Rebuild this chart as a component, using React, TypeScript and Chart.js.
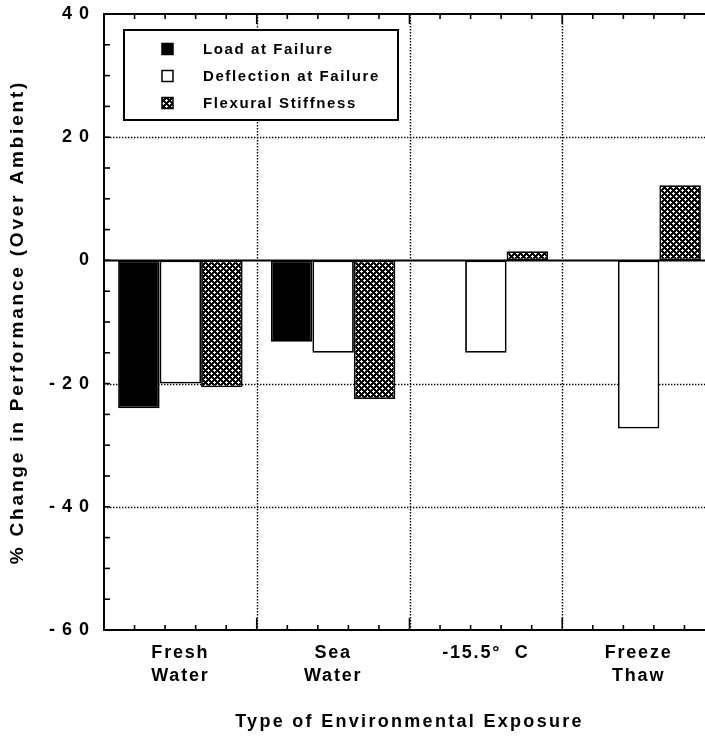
import React, { useEffect, useRef } from 'react';
import { Chart, registerables } from 'chart.js';

Chart.register(...registerables);

const categories: (string | string[])[] = [['Fresh', 'Water'], ['Sea', 'Water'], '-15.5°  C', ['Freeze', 'Thaw']];
const seriesNames = ['Load at Failure', 'Deflection at Failure', 'Flexural Stiffness'];
const loadAtFailure: (number | null)[] = [-24, -13.2, null, null];
const deflectionAtFailure: (number | null)[] = [-20, -15, -15, -27.3];
const flexuralStiffness: (number | null)[] = [-20.6, -22.5, 1.5, 12.2];
const yTicks = [40, 20, 0, -20, -40, -60];
const dottedLevels = [20, -20, -40];

const FONT = '"Liberation Sans", Arial, Helvetica, sans-serif';

function makePattern(ctx: CanvasRenderingContext2D): CanvasPattern | string {
  const c = document.createElement('canvas');
  c.width = 6;
  c.height = 6;
  const p = c.getContext('2d');
  if (!p) return '#555';
  p.fillStyle = '#000';
  p.fillRect(0, 0, 6, 6);
  p.fillStyle = '#fff';
  const plus = (cx: number, cy: number) => {
    p.fillRect(cx, cy - 1, 1, 3);
    p.fillRect(cx - 1, cy, 3, 1);
  };
  plus(1, 1);
  plus(4, 4);
  return ctx.createPattern(c, 'repeat') || '#555';
}

function spaced(scale: any, key: 'drawLabels' | 'drawTitle', spacing: string) {
  if (scale['__p_' + key]) return;
  const orig = scale[key].bind(scale);
  scale[key] = (...args: any[]) => {
    const ctx = scale.ctx as any;
    ctx.save();
    ctx.letterSpacing = spacing;
    orig(...args);
    ctx.restore();
  };
  scale['__p_' + key] = true;
}

const spacingPlugin = {
  id: 'spacing',
  beforeDraw(chart: any) {
    spaced(chart.scales.x, 'drawLabels', '1.8px');
    spaced(chart.scales.x, 'drawTitle', '2.3px');
    spaced(chart.scales.y, 'drawLabels', '7px');
    spaced(chart.scales.y, 'drawTitle', '2.8px');
  },
};

function line(ctx: CanvasRenderingContext2D, x1: number, y1: number, x2: number, y2: number) {
  ctx.beginPath();
  ctx.moveTo(x1, y1);
  ctx.lineTo(x2, y2);
  ctx.stroke();
}

function boundaries(chart: any): number[] {
  const x = chart.scales.x;
  const n = chart.data.labels.length;
  const out: number[] = [];
  for (let i = 0; i < n - 1; i++) {
    out.push((x.getPixelForValue(i) + x.getPixelForValue(i + 1)) / 2);
  }
  return out;
}

const framePlugin = {
  id: 'frame',
  beforeDatasetsDraw(chart: any) {
    const { ctx, chartArea: a, scales } = chart;
    const y = scales.y;
    ctx.save();
    ctx.strokeStyle = '#000';
    ctx.lineWidth = 1.4;
    ctx.setLineDash([1.4, 1.6]);
    for (const v of dottedLevels) {
      const py = Math.round(y.getPixelForValue(v)) + 0.5;
      line(ctx, a.left, py, a.right, py);
    }
    for (const b of boundaries(chart)) {
      const px = Math.round(b) + 0.5;
      line(ctx, px, a.top, px, a.bottom);
    }
    ctx.restore();
  },
  afterDatasetsDraw(chart: any) {
    const { ctx, chartArea: a, scales } = chart;
    const x = scales.x;
    const y = scales.y;
    ctx.save();
    ctx.strokeStyle = '#000';
    ctx.setLineDash([]);
    ctx.lineWidth = 2;
    const z = y.getPixelForValue(0);
    line(ctx, a.left, z, a.right, z);
    ctx.lineWidth = 2;
    ctx.strokeRect(a.left, a.top, a.right - a.left, a.bottom - a.top);
    ctx.lineWidth = 1.6;
    for (let v = y.min + 5; v < y.max; v += 5) {
      const py = y.getPixelForValue(v);
      line(ctx, a.left, py, a.left + 6, py);
      line(ctx, a.right, py, a.right - 6, py);
    }
    const n = chart.data.labels.length;
    const half = (x.getPixelForValue(1) - x.getPixelForValue(0)) / 2;
    for (let i = 0; i < n; i++) {
      const left = x.getPixelForValue(i) - half;
      for (let k = 1; k < 5; k++) {
        const px = left + (k * 2 * half) / 5;
        line(ctx, px, a.bottom, px, a.bottom - 5);
        line(ctx, px, a.top, px, a.top + 5);
      }
    }
    for (const b of boundaries(chart)) {
      line(ctx, b, a.bottom, b, a.bottom - 12);
      line(ctx, b, a.top, b, a.top + 10);
    }
    ctx.restore();
  },
};

const legendPlugin = {
  id: 'boxLegend',
  afterDatasetsDraw(chart: any) {
    const ctx = chart.ctx as any;
    ctx.save();
    ctx.fillStyle = '#fff';
    ctx.fillRect(124, 30, 274, 90);
    ctx.strokeStyle = '#000';
    ctx.lineWidth = 2;
    ctx.strokeRect(124, 30, 274, 90);
    ctx.font = `bold 15px ${FONT}`;
    ctx.letterSpacing = '1.6px';
    ctx.textBaseline = 'middle';
    ctx.textAlign = 'left';
    chart.data.datasets.forEach((ds: any, i: number) => {
      const cy = 49 + i * 27;
      ctx.fillStyle = ds.backgroundColor;
      ctx.fillRect(162, cy - 5.5, 11, 11);
      ctx.lineWidth = 1.5;
      ctx.strokeStyle = '#000';
      ctx.strokeRect(162, cy - 5.5, 11, 11);
      ctx.fillStyle = '#000';
      ctx.fillText(ds.label, 203, cy + 0.5);
    });
    ctx.restore();
  },
};

export default function App() {
  const ref = useRef<HTMLCanvasElement | null>(null);

  useEffect(() => {
    const canvas = ref.current;
    if (!canvas) return;
    const ctx = canvas.getContext('2d');
    if (!ctx) return;
    const pattern = makePattern(ctx);
    const chart = new Chart(canvas, {
      type: 'bar',
      data: {
        labels: categories as any,
        datasets: [
          { label: seriesNames[0], data: loadAtFailure, backgroundColor: '#000', borderColor: '#000', borderWidth: 1.8, borderSkipped: false },
          { label: seriesNames[1], data: deflectionAtFailure, backgroundColor: '#fff', borderColor: '#000', borderWidth: 1.8, borderSkipped: false },
          { label: seriesNames[2], data: flexuralStiffness, backgroundColor: pattern as any, borderColor: '#000', borderWidth: 1.8, borderSkipped: false },
        ],
      },
      options: {
        responsive: false,
        animation: false,
        devicePixelRatio: 1,
        layout: { padding: { top: 14, right: 1, left: 0, bottom: 0 } },
        plugins: { legend: { display: false }, tooltip: { enabled: false } },
        datasets: { bar: { categoryPercentage: 0.815, barPercentage: 1 } },
        scales: {
          x: {
            grid: { display: false, drawTicks: false },
            border: { display: false },
            ticks: { color: '#000', font: { family: FONT, size: 18, weight: 'bold', lineHeight: 1.3 }, padding: 11, maxRotation: 0, autoSkip: false },
            title: { display: true, text: 'Type of Environmental Exposure', color: '#000', font: { family: FONT, size: 18, weight: 'bold' }, padding: { top: 0, bottom: 10 } },
            afterFit: (s: any) => {
              s.height = 113;
              s.paddingLeft = 0;
              s.paddingRight = 0;
            },
          },
          y: {
            min: -60,
            max: 40,
            grid: { display: false, drawTicks: false },
            border: { display: false },
            afterBuildTicks: (s: any) => {
              s.ticks = yTicks.map((v) => ({ value: v }));
            },
            ticks: { color: '#000', font: { family: FONT, size: 18, weight: 'bold' }, padding: 8 },
            title: { display: true, text: '% Change in Performance (Over Ambient)', color: '#000', font: { family: FONT, size: 19, weight: 'bold' }, padding: { top: 6, bottom: 0 } },
            afterFit: (s: any) => {
              s.width = 104;
              s.paddingTop = 0;
              s.paddingBottom = 0;
            },
          },
        },
      },
      plugins: [spacingPlugin, framePlugin, legendPlugin],
    });
    return () => chart.destroy();
  }, []);

  return (
    <div style={{ position: 'fixed', left: 0, top: 0, width: 705, height: 743, overflow: 'hidden', background: '#fff' }}>
      <canvas ref={ref} width={716} height={743} style={{ display: 'block', width: 716, height: 743 }} />
    </div>
  );
}
